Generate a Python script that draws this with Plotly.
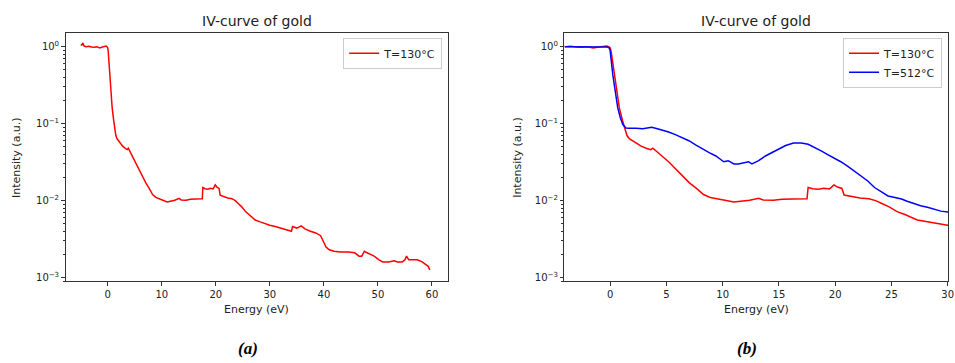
import plotly.graph_objects as go

# ---- data ----
E130 = [-5.0,-4.8,-4.6,-4.4,-4.0,-3.5,-3.0,-2.5,-2.0,-1.5,-1.0,-0.6,-0.3,-0.1,0.0,0.09,0.38,0.62,0.82,1.1,1.27,1.5,1.7,1.84,2.2,2.76,3.2,3.6,3.8,4.0,4.3,4.6,5.2,5.8,6.4,7.05,7.7,8.3,8.9,9.5,10.2,11.0,11.7,12.4,13.2,13.6,14.5,15.3,16.2,17.0,17.5,17.6,18.0,18.5,19.0,19.5,19.9,20.2,20.6,20.8,21.5,22.2,23.0,23.6,24.2,24.8,25.5,26.2,27.3,28.2,29.1,30.0,31.0,32.0,33.0,34.0,34.2,35.0,35.8,36.5,37.5,38.5,39.4,39.8,40.4,41.0,41.9,43.0,44.5,45.7,46.5,47.0,47.5,48.0,49.3,50.2,50.9,52.0,53.0,53.6,54.5,55.0,55.3,55.7,56.5,57.3,58.2,58.8,59.3,59.6]
I130 = [1.06,1.05,1.12,1.02,1.0,1.01,0.99,0.98,1.0,0.96,0.99,1.0,1.02,0.99,0.97,0.87,0.43,0.27,0.16,0.11,0.088,0.07,0.064,0.062,0.058,0.051,0.048,0.046,0.048,0.045,0.042,0.038,0.032,0.026,0.021,0.017,0.0143,0.012,0.011,0.0105,0.0101,0.0096,0.0098,0.0101,0.0107,0.0102,0.0101,0.0104,0.0105,0.0106,0.0106,0.0148,0.0143,0.0141,0.0145,0.0142,0.0160,0.0150,0.0144,0.0118,0.0113,0.0108,0.0106,0.0100,0.0091,0.0083,0.0072,0.0066,0.0056,0.0053,0.0050,0.0048,0.0046,0.0044,0.0042,0.0040,0.0046,0.0044,0.0047,0.0043,0.0040,0.0038,0.0035,0.0030,0.0025,0.0023,0.0022,0.00215,0.00215,0.0021,0.0019,0.0019,0.0022,0.0021,0.0019,0.0017,0.0016,0.0016,0.00165,0.0016,0.0016,0.0017,0.0019,0.0017,0.0017,0.0017,0.0016,0.0015,0.0014,0.00126]

E512 = [-4.0,-3.0,-2.0,-1.0,-0.35,-0.12,0.0,0.24,0.45,0.68,0.9,1.12,1.41,1.7,2.3,2.9,3.3,3.7,4.2,4.65,5.2,5.8,6.4,7.0,7.6,8.2,8.8,9.4,9.8,10.1,10.5,11.0,11.4,12.0,12.3,12.6,13.2,13.8,14.4,15.0,15.6,16.3,17.0,17.6,18.2,18.8,19.3,19.9,20.5,21.1,21.7,22.3,22.9,23.5,24.1,24.7,25.3,25.9,26.4,27.0,27.6,28.2,28.8,29.4,30.0,30.5]
I512 = [1.0,1.0,1.01,1.0,0.99,0.98,0.9,0.43,0.26,0.16,0.12,0.098,0.088,0.087,0.087,0.086,0.088,0.090,0.086,0.083,0.078,0.072,0.066,0.060,0.053,0.047,0.042,0.038,0.034,0.032,0.033,0.030,0.030,0.031,0.032,0.030,0.033,0.038,0.042,0.047,0.052,0.056,0.056,0.054,0.049,0.044,0.040,0.036,0.032,0.028,0.024,0.021,0.018,0.0148,0.013,0.0115,0.011,0.0105,0.0098,0.0091,0.0086,0.0082,0.0077,0.0073,0.0071,0.0069]

YTICKS = [1, 0.1, 0.01, 0.001]
YTICKTEXT = ["10<sup>0</sup>", "10<sup>−1</sup>", "10<sup>−2</sup>", "10<sup>−3</sup>"]
XTICKS_A = [0, 10, 20, 30, 40, 50, 60]
XTICKS_B = [0, 5, 10, 15, 20, 25, 30]
TITLE = "IV-curve of gold"

W, H = 955, 363
def px(x): return x / W
def py(y): return 1 - y / H

minor_vals = [m * 10 ** e for e in range(-4, 1) for m in range(2, 10)]

fig = go.Figure()
fig.add_trace(go.Scatter(x=E130, y=I130, mode="lines", name="T=130°C",
                         line=dict(color="#ff0000", width=1.5),
                         xaxis="x", yaxis="y", legend="legend"))
fig.add_trace(go.Scatter(x=E130, y=I130, mode="lines", name="T=130°C",
                         line=dict(color="#ff0000", width=1.5),
                         xaxis="x2", yaxis="y2", legend="legend2"))
fig.add_trace(go.Scatter(x=E512, y=I512, mode="lines", name="T=512°C",
                         line=dict(color="#0000ff", width=1.5),
                         xaxis="x2", yaxis="y2", legend="legend2"))

axis_common = dict(showline=True, mirror=True, linecolor="#333333", linewidth=1,
                   ticks="outside", ticklen=3.5, tickcolor="#333333",
                   showgrid=False, zeroline=False, ticklabeloverflow="allow",
                   tickfont=dict(family="DejaVu Sans", size=10, color="#222222"))

leg_common = dict(yanchor="top", xanchor="right",
                  bgcolor="white", bordercolor="#cccccc", borderwidth=1,
                  font=dict(family="DejaVu Sans", size=11, color="#222222"),
                  tracegroupgap=0, itemwidth=30)

fig.update_layout(
    width=W, height=H,
    margin=dict(l=0, r=0, t=0, b=0),
    paper_bgcolor="white", plot_bgcolor="white",
    xaxis=dict(domain=[px(66), px(451)], range=[-7.8, 63.0],
               tickvals=XTICKS_A, anchor="y", **axis_common),
    yaxis=dict(domain=[py(283), py(33)], type="log", range=[-3.05, 0.18],
               tickvals=YTICKS, ticktext=YTICKTEXT, anchor="x",
               minor=dict(tickvals=minor_vals, ticks="outside", ticklen=2, tickcolor="#333333"),
               **axis_common),
    xaxis2=dict(domain=[px(568), px(954)], range=[-4.06, 30.03],
                tickvals=XTICKS_B, anchor="y2", **axis_common),
    yaxis2=dict(domain=[py(283), py(33)], type="log", range=[-3.05, 0.18],
                tickvals=YTICKS, ticktext=YTICKTEXT, anchor="x2",
                minor=dict(tickvals=minor_vals, ticks="outside", ticklen=2, tickcolor="#333333"),
                **axis_common),
    legend=dict(x=px(445), y=py(38), **leg_common),
    legend2=dict(x=px(948), y=py(38), **leg_common),
    showlegend=True,
)

ann_font = dict(family="DejaVu Sans", size=11, color="#222222")
title_font = dict(family="DejaVu Sans", size=14, color="#222222")
annotations = [
    dict(x=px(258.5), y=py(21), text=TITLE, font=title_font),
    dict(x=px(761), y=py(21), text=TITLE, font=title_font),
    dict(x=px(258.5), y=py(311), text="Energy (eV)", font=ann_font),
    dict(x=px(761), y=py(311), text="Energy (eV)", font=ann_font),
    dict(x=px(16), y=py(158), text="Intensity (a.u.)", textangle=-90, font=ann_font),
    dict(x=px(520), y=py(158), text="Intensity (a.u.)", textangle=-90, font=ann_font),
    dict(x=px(250), y=py(350), text="<b><i>(a)</i></b>",
         font=dict(family="Liberation Serif", size=17, color="#000000")),
    dict(x=px(752), y=py(350), text="<b><i>(b)</i></b>",
         font=dict(family="Liberation Serif", size=17, color="#000000")),
]
for a in annotations:
    a.update(xref="paper", yref="paper", showarrow=False, xanchor="center", yanchor="middle")
fig.update_layout(annotations=annotations)

fig.write_html("out.html", config={"displayModeBar": False},
               post_script=("document.documentElement.style.overflow='hidden';"
                            "document.body.style.margin='0';"
                            "document.body.style.overflow='hidden';"))
